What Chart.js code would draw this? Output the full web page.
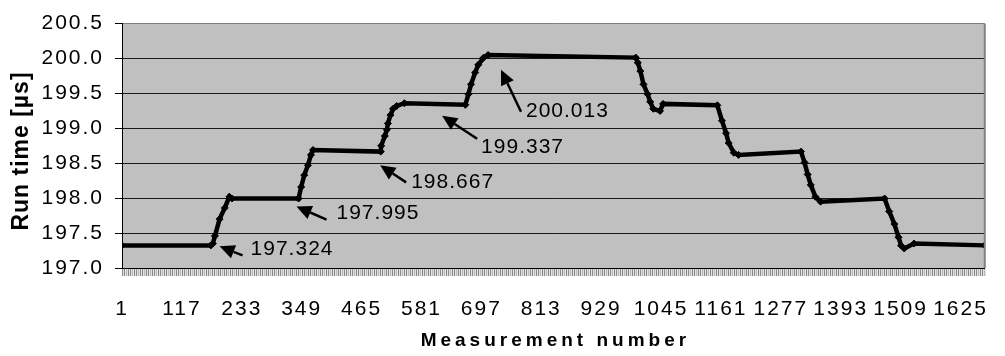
<!DOCTYPE html>
<html>
<head>
<meta charset="utf-8">
<script src="https://cdn.jsdelivr.net/npm/chart.js@4.4.1/dist/chart.umd.min.js"></script>
<style>
  html, body { margin: 0; padding: 0; background: #fff; }
  #wrap { width: 1005px; height: 356px; position: relative; }
</style>
</head>
<body>
<div id="wrap"><canvas id="grafico"></canvas></div>
<script>
// valores (puntos de quiebre de la escalera)
const measurement = [1, 173, 177, 181, 190, 200, 209, 214,
  343, 348, 354, 361, 367, 371,
  502, 503, 510, 514, 516, 521, 526, 533, 548,
  666, 672, 677, 685, 691, 701, 710,
  996, 1000, 1005, 1011, 1019, 1024, 1030, 1043, 1049,
  1154, 1163, 1171, 1176, 1186, 1195,
  1316, 1323, 1329, 1335, 1344, 1354,
  1478, 1487, 1497, 1505, 1510, 1516, 1535,
  1672];
const runTime = [197.324, 197.324, 197.35, 197.46, 197.70, 197.86, 198.02, 197.995,
  197.995, 198.16, 198.33, 198.47, 198.62, 198.69,
  198.667, 198.75, 198.89, 198.98, 199.07, 199.19, 199.28, 199.32, 199.36,
  199.337, 199.49, 199.63, 199.80, 199.91, 200.01, 200.05,
  200.013, 199.94, 199.82, 199.63, 199.49, 199.38, 199.28, 199.25, 199.35,
  199.33, 199.11, 198.93, 198.79, 198.65, 198.62,
  198.667, 198.51, 198.34, 198.19, 198.02, 197.95,
  197.995, 197.81, 197.63, 197.44, 197.32, 197.28, 197.35,
  197.324];
const xTickLabels = [1, 117, 233, 349, 465, 581, 697, 813, 929, 1045, 1161, 1277, 1393, 1509, 1625];

// etiquetas con flecha
const annotText = ['197.324', '197.995', '198.667', '199.337', '200.013'];
const annotAtX = [190, 339, 501, 621, 735];
const annotAtY = [197.31, 197.88, 198.47, 199.18, 199.84];

const FUENTE = "'Liberation Sans', Arial, sans-serif";
Chart.defaults.font.family = FUENTE;

const decoracion = {
  id: 'decoracion',
  beforeDraw(chart) {
    const { ctx, chartArea: a } = chart;
    ctx.save();
    ctx.fillStyle = '#c0c0c0';
    ctx.fillRect(a.left, a.top, a.right - a.left, a.bottom - a.top);
    ctx.restore();
    ctx.letterSpacing = '2px';
  },
  afterDraw(chart) {
    const { ctx, chartArea: a, scales } = chart;
    ctx.save();
    ctx.letterSpacing = '0px';

    // borde derecho gris
    ctx.strokeStyle = '#808080';
    ctx.lineWidth = 2;
    ctx.beginPath();
    ctx.moveTo(a.right, a.top);
    ctx.lineTo(a.right, a.bottom);
    ctx.stroke();

    // marcas densas bajo el eje x
    for (let x = a.left; x < a.right; x += 2) {
      ctx.fillStyle = (x % 6 === 0) ? '#b8b8b8' : '#8c8c8c';
      ctx.fillRect(x, a.bottom + 1, 1, 7);
      ctx.fillStyle = '#e2e2e2';
      ctx.fillRect(x + 1, a.bottom + 1, 1, 7);
    }

    // flechas y textos
    const vec = [[23, 9], [30, 13], [26, 17], [35, 23], [20, 42]];
    const txtOff = [[8, -6], [10, -6], [5, 0], [4, 8], [5, 0]];
    annotText.forEach((t, i) => {
      const tx = scales.x.getPixelForValue(annotAtX[i]);
      const ty = scales.y.getPixelForValue(annotAtY[i]);
      const ex = tx + vec[i][0], ey = ty + vec[i][1];
      const ang = Math.atan2(ty - ey, tx - ex);
      const largo = 15, ancho = 7;
      const bx = tx - largo * Math.cos(ang), by = ty - largo * Math.sin(ang);
      ctx.strokeStyle = '#000';
      ctx.lineWidth = 2.5;
      ctx.beginPath();
      ctx.moveTo(ex, ey);
      ctx.lineTo(bx, by);
      ctx.stroke();
      ctx.fillStyle = '#000';
      ctx.beginPath();
      ctx.moveTo(tx, ty);
      ctx.lineTo(bx + ancho * Math.sin(ang), by - ancho * Math.cos(ang));
      ctx.lineTo(bx - ancho * Math.sin(ang), by + ancho * Math.cos(ang));
      ctx.closePath();
      ctx.fill();

      ctx.letterSpacing = '1px';
      ctx.font = `21px ${FUENTE}`;
      ctx.textAlign = 'left';
      ctx.textBaseline = 'middle';
      ctx.fillText(t, ex + txtOff[i][0], ey + txtOff[i][1]);
    });

    // titulos de ejes
    ctx.fillStyle = '#000';
    ctx.textAlign = 'center';
    ctx.textBaseline = 'middle';
    ctx.letterSpacing = '4px';
    ctx.font = `bold 19px ${FUENTE}`;
    ctx.fillText('Measurement number', (a.left + a.right) / 2 + 2, 341);

    ctx.letterSpacing = '1px';
    ctx.font = `bold 23px ${FUENTE}`;
    ctx.translate(22, 151);
    ctx.rotate(-Math.PI / 2);
    ctx.fillText('Run time [µs]', 0, 0);
    ctx.restore();
  }
};

const puntos = measurement.map((m, i) => ({ x: m, y: runTime[i] }));

new Chart(document.getElementById('grafico'), {
  type: 'line',
  data: {
    datasets: [{
      data: puntos,
      borderColor: '#000',
      borderWidth: 4.5,
      backgroundColor: '#000',
      pointStyle: 'rectRot',
      pointRadius: 3.5,
      pointBorderColor: '#000',
      pointBorderWidth: 1,
      tension: 0
    }]
  },
  options: {
    responsive: true,
    maintainAspectRatio: false,
    animation: false,
    layout: { padding: { left: 0, top: 18, right: 5, bottom: 0 } },
    plugins: {
      legend: { display: false },
      tooltip: { enabled: false }
    },
    scales: {
      x: {
        type: 'linear',
        min: 1,
        max: 1672,
        afterBuildTicks: (s) => { s.ticks = xTickLabels.map(v => ({ value: v })); },
        afterFit: (s) => { s.height = 88; },
        grid: { display: false },
        border: { display: true, color: '#000', width: 1 },
        ticks: {
          autoSkip: false,
          maxRotation: 0,
          padding: 21,
          color: '#000',
          font: { size: 21 },
          callback: (v) => String(v)
        }
      },
      y: {
        min: 197,
        max: 200.5,
        afterFit: (s) => { s.width = 122; },
        grid: {
          color: (c) => (c.tick && c.tick.value === 200.5) ? '#808080' : '#1a1a1a',
          tickColor: '#000',
          tickLength: 7,
          lineWidth: 1
        },
        border: { display: true, color: '#000', width: 1 },
        ticks: {
          stepSize: 0.5,
          padding: 11,
          color: '#000',
          font: { size: 21 },
          callback: (v) => Number(v).toFixed(1)
        }
      }
    }
  },
  plugins: [decoracion]
});
</script>
</body>
</html>
